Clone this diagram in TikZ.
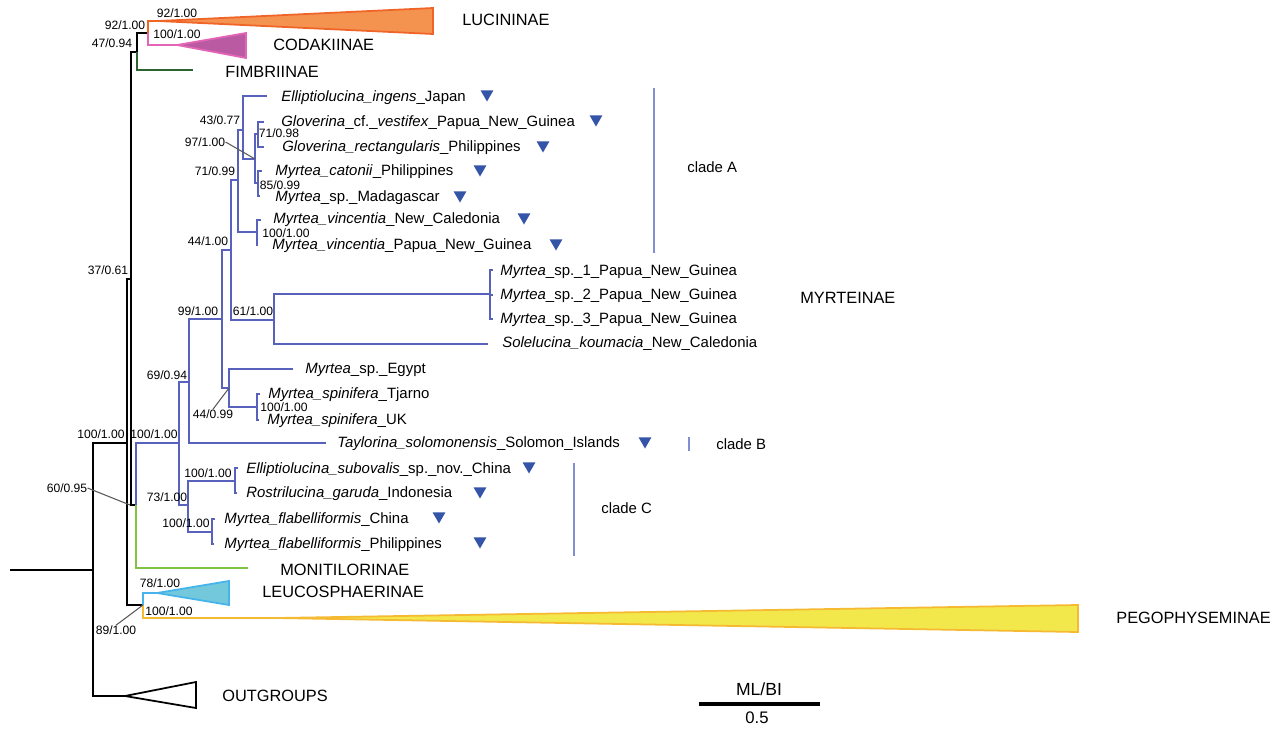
\documentclass[tikz,border=0pt]{standalone}
\usepackage{fontspec}
\setmainfont{Liberation Sans}
\usetikzlibrary{shapes.geometric}

\definecolor{myrtblue}{RGB}{88,98,188}
\definecolor{markblue}{RGB}{52,84,168}
\definecolor{barblue}{RGB}{128,142,210}
\definecolor{lucline}{RGB}{240,100,40}
\definecolor{lucfill}{RGB}{244,146,80}
\definecolor{codline}{RGB}{228,100,182}
\definecolor{codfill}{RGB}{186,90,162}
\definecolor{fimgreen}{RGB}{45,100,50}
\definecolor{mongreen}{RGB}{130,195,70}
\definecolor{leuline}{RGB}{70,180,235}
\definecolor{leufill}{RGB}{115,200,220}
\definecolor{pegline}{RGB}{245,185,50}
\definecolor{pegfill}{RGB}{242,232,75}
\definecolor{leadgray}{RGB}{90,90,90}

\begin{document}
\begin{tikzpicture}[
    x=0.02cm, y=-0.02cm,
    branch/.style={line width=1.1pt},
    myrt/.style={branch, draw=myrtblue},
    clade/.style={line width=1pt, line join=miter},
    taxon/.style={anchor=west, inner sep=0pt, text height=6.2pt, text depth=1.6pt, font=\fontsize{8.5}{10}\selectfont},
    supp/.style={inner sep=0pt, font=\fontsize{6.9}{8}\selectfont},
    grp/.style={anchor=west, inner sep=0pt, font=\fontsize{9.3}{11}\selectfont},
    cladelbl/.style={anchor=west, inner sep=0pt, font=\fontsize{8.5}{10}\selectfont},
    tri/.style={regular polygon, regular polygon sides=3, shape border rotate=180, fill=markblue, inner sep=0pt, minimum size=0.3cm},
    leader/.style={draw=leadgray, line width=0.6pt},
    cladebar/.style={draw=barblue, line width=0.8pt}
]
\useasboundingbox (0,0) rectangle (1279,728);

% Backbone
\coordinate (r0) at (10,570);
\coordinate (root) at (93,570);
\coordinate (n100a) at (127,443);
\coordinate (n37) at (131,279);
\coordinate (n47) at (137,52);
\coordinate (n92) at (148,33);
\coordinate (n60) at (136,505);
\coordinate (n89) at (143,605);
\coordinate (outA) at (125,696);

\draw[branch] (r0) -- (root);
\draw[branch] (root) |- (n100a) (root) |- (outA);
\draw[branch] (n100a) |- (n37) (n100a) |- (n89);
\draw[branch] (n37) |- (n47) (n37) |- (n60);
\draw[branch] (n47) |- (n92);

% Lucininae, Codakiinae, Fimbriinae
\coordinate (lucA) at (158,21);
\coordinate (codA) at (177,45);
\coordinate (fimE) at (193,70);
\draw[branch, lucline] (n92) |- (lucA);
\draw[branch, codline] (n92) |- (codA);
\draw[branch, fimgreen] (n47) |- (fimE);
\draw[clade, draw=lucline, fill=lucfill] (lucA) -- (433,8) -- (433,34) -- cycle;
\draw[clade, draw=codline, fill=codfill] (codA) -- (246,33) -- (246,58) -- cycle;

% Myrteinae
\coordinate (nMyr) at (179,443);
\coordinate (n69) at (189,382);
\coordinate (n99) at (222,319);
\coordinate (n44a) at (231,250);
\coordinate (n71a) at (238,180);
\coordinate (n43) at (243,130);
\coordinate (n97) at (255,159);
\coordinate (n71b) at (258,134);
\coordinate (n85) at (258,183);
\coordinate (nVin) at (257,232);
\coordinate (n61) at (274,320);
\coordinate (nSp) at (490,294);
\coordinate (n44b) at (229,388);
\coordinate (nSpi) at (257,407);
\coordinate (n73) at (188,505);
\coordinate (nSub) at (235,481);
\coordinate (nFla) at (212,532);

\coordinate (tIng) at (267,96);
\coordinate (tCf) at (264,122);
\coordinate (tRec) at (264,147);
\coordinate (tCat) at (262,171);
\coordinate (tMad) at (260,196);
\coordinate (tVinN) at (261,220);
\coordinate (tVinP) at (258,245);
\coordinate (tSp1) at (493,270);
\coordinate (tSp2) at (493,295);
\coordinate (tSp3) at (493,319);
\coordinate (tSol) at (488,344);
\coordinate (tEgy) at (293,369);
\coordinate (tTja) at (260,394);
\coordinate (tUK) at (259,420);
\coordinate (tTay) at (326,443);
\coordinate (tSub) at (238,468);
\coordinate (tGar) at (237,493);
\coordinate (tFlC) at (215,519);
\coordinate (tFlP) at (214,544);

\draw[myrt] (n60) |- (nMyr);
\draw[myrt] (nMyr) |- (n69) (nMyr) |- (n73);
\draw[myrt] (n69) |- (n99) (n69) |- (tTay);
\draw[myrt] (n99) |- (n44a) (n99) |- (n44b);
\draw[myrt] (n44a) |- (n71a) (n44a) |- (n61);
\draw[myrt] (n71a) |- (n43) (n71a) |- (nVin);
\draw[myrt] (n43) |- (tIng) (n43) |- (n97);
\draw[myrt] (n97) |- (n71b) (n97) |- (n85);
\draw[myrt] (n71b) |- (tCf) (n71b) |- (tRec);
\draw[myrt] (n85) |- (tCat) (n85) |- (tMad);
\draw[myrt] (nVin) |- (tVinN) (nVin) |- (tVinP);
\draw[myrt] (n61) |- (nSp) (n61) |- (tSol);
\draw[myrt] (nSp) |- (tSp1) (nSp) |- (tSp2) (nSp) |- (tSp3);
\draw[myrt] (n44b) |- (tEgy) (n44b) |- (nSpi);
\draw[myrt] (nSpi) |- (tTja) (nSpi) |- (tUK);
\draw[myrt] (n73) |- (nSub) (n73) |- (nFla);
\draw[myrt] (nSub) |- (tSub) (nSub) |- (tGar);
\draw[myrt] (nFla) |- (tFlC) (nFla) |- (tFlP);

% Monitilorinae, Leucosphaerinae, Pegophyseminae, outgroups
\coordinate (monE) at (248,568);
\coordinate (leuA) at (157,593);
\coordinate (pegA) at (277,618);
\draw[branch, mongreen] (n60) |- (monE);
\draw[branch, leuline] (n89) |- (leuA);
\draw[branch, pegline] (n89) |- (pegA);
\draw[clade, draw=leuline, fill=leufill] (leuA) -- (229,581) -- (229,605) -- cycle;
\draw[clade, draw=pegline, fill=pegfill] (pegA) -- (1078,605) -- (1078,632) -- cycle;
\draw[clade, fill=white] (outA) -- (196,682) -- (196,708) -- cycle;

% Taxa
\node[taxon] (lIng) at (281,97) {\textit{Elliptiolucina\_ingens}\_Japan};
\node[taxon] (lCf) at (281,122) {\textit{Gloverina}\_cf.\_\textit{vestifex}\_Papua\_New\_Guinea};
\node[taxon] (lRec) at (282,147) {\textit{Gloverina\_rectangularis}\_Philippines};
\node[taxon] (lCat) at (275,171) {\textit{Myrtea\_catonii}\_Philippines};
\node[taxon] (lMad) at (275,197) {\textit{Myrtea}\_sp.\_Madagascar};
\node[taxon] (lVinN) at (273,219) {\textit{Myrtea\_vincentia}\_New\_Caledonia};
\node[taxon] (lVinP) at (272,245) {\textit{Myrtea\_vincentia}\_Papua\_New\_Guinea};
\node[taxon] (lSp1) at (500,271) {\textit{Myrtea}\_sp.\_1\_Papua\_New\_Guinea};
\node[taxon] (lSp2) at (500,295) {\textit{Myrtea}\_sp.\_2\_Papua\_New\_Guinea};
\node[taxon] (lSp3) at (500,319) {\textit{Myrtea}\_sp.\_3\_Papua\_New\_Guinea};
\node[taxon] (lSol) at (502,343) {\textit{Solelucina\_koumacia}\_New\_Caledonia};
\node[taxon] (lEgy) at (305,369) {\textit{Myrtea}\_sp.\_Egypt};
\node[taxon] (lTja) at (268,394) {\textit{Myrtea\_spinifera}\_Tjarno};
\node[taxon] (lUK) at (267,420) {\textit{Myrtea\_spinifera}\_UK};
\node[taxon] (lTay) at (337,443) {\textit{Taylorina\_solomonensis}\_Solomon\_Islands};
\node[taxon] (lSub) at (246,469) {\textit{Elliptiolucina\_subovalis}\_sp.\_nov.\_China};
\node[taxon] (lGar) at (246,493) {\textit{Rostrilucina\_garuda}\_Indonesia};
\node[taxon] (lFlC) at (224,519) {\textit{Myrtea\_flabelliformis}\_China};
\node[taxon] (lFlP) at (224,544) {\textit{Myrtea\_flabelliformis}\_Philippines};

% Markers
\node[tri] (m1) at (487,94) {};
\node[tri] (m2) at (596,119) {};
\node[tri] (m3) at (543,145) {};
\node[tri] (m4) at (480,169) {};
\node[tri] (m5) at (460,195) {};
\node[tri] (m6) at (524,217) {};
\node[tri] (m7) at (556,243) {};
\node[tri] (m8) at (645,441) {};
\node[tri] (m9) at (529,466) {};
\node[tri] (m10) at (480,491) {};
\node[tri] (m11) at (439,516) {};
\node[tri] (m12) at (480,541) {};

% Subfamilies
\node[grp] (gLuc) at (462,20) {LUCININAE};
\node[grp] (gCod) at (273,45) {CODAKIINAE};
\node[grp] (gFim) at (225,72) {FIMBRIINAE};
\node[grp] (gMyr) at (800,298) {MYRTEINAE};
\node[grp] (gMon) at (280,570) {MONITILORINAE};
\node[grp] (gLeu) at (262,592) {LEUCOSPHAERINAE};
\node[grp] (gPeg) at (1116,618) {PEGOPHYSEMINAE};
\node[grp] (gOut) at (222,696) {OUTGROUPS};

% Clades
\coordinate (cA1) at (654,88);
\coordinate (cA2) at (654,253);
\coordinate (cB1) at (689,437);
\coordinate (cB2) at (689,451);
\coordinate (cC1) at (574,463);
\coordinate (cC2) at (574,556);
\draw[cladebar] (cA1) -- (cA2);
\draw[cladebar] (cB1) -- (cB2);
\draw[cladebar] (cC1) -- (cC2);
\node[cladelbl] (clA) at (687,167) {clade A};
\node[cladelbl] (clB) at (716,444) {clade B};
\node[cladelbl] (clC) at (601,508) {clade C};

% Support values
\node[supp] (s92a) at (125,25) {92/1.00};
\node[supp] (s92b) at (177,13) {92/1.00};
\node[supp] (s100cod) at (177,34) {100/1.00};
\node[supp] (s47) at (112,43) {47/0.94};
\node[supp] (s37) at (108,270) {37/0.61};
\node[supp] (s100a) at (101,434) {100/1.00};
\node[supp] (s100myr) at (154,434) {100/1.00};
\node[supp] (s60) at (67,488) {60/0.95};
\node[supp] (s89) at (116,630) {89/1.00};
\node[supp] (s78) at (160,583) {78/1.00};
\node[supp] (s100peg) at (169,611) {100/1.00};
\node[supp] (s43) at (220,120) {43/0.77};
\node[supp] (s97) at (205,142) {97/1.00};
\node[supp] (s71b) at (279,133) {71/0.98};
\node[supp] (s71a) at (215,171) {71/0.99};
\node[supp] (s85) at (280,185) {85/0.99};
\node[supp] (s100vin) at (286,233) {100/1.00};
\node[supp] (s44a) at (208,241) {44/1.00};
\node[supp] (s99) at (198,311) {99/1.00};
\node[supp] (s61) at (253,311) {61/1.00};
\node[supp] (s69) at (167,375) {69/0.94};
\node[supp] (s44b) at (213,414) {44/0.99};
\node[supp] (s100spi) at (284,407) {100/1.00};
\node[supp] (s73) at (167,497) {73/1.00};
\node[supp] (s100sub) at (208,473) {100/1.00};
\node[supp] (s100fla) at (186,523) {100/1.00};

% Leaders
\draw[leader] (s97.east) -- (n97);
\draw[leader] (s44b.north) -- (n44b);
\draw[leader] (s60.east) -- (130,505);
\draw[leader] (s89.north) -- (n89);

% Scale
\coordinate (sb1) at (699,704);
\coordinate (sb2) at (820,704);
\draw[line width=2.4pt] (sb1) -- (sb2);
\node[inner sep=0pt, font=\fontsize{10}{12}\selectfont] (sbT) at (759,689) {ML/BI};
\node[inner sep=0pt, font=\fontsize{9.5}{11}\selectfont] (sbB) at (757,718) {0.5};

\end{tikzpicture}
\end{document}
